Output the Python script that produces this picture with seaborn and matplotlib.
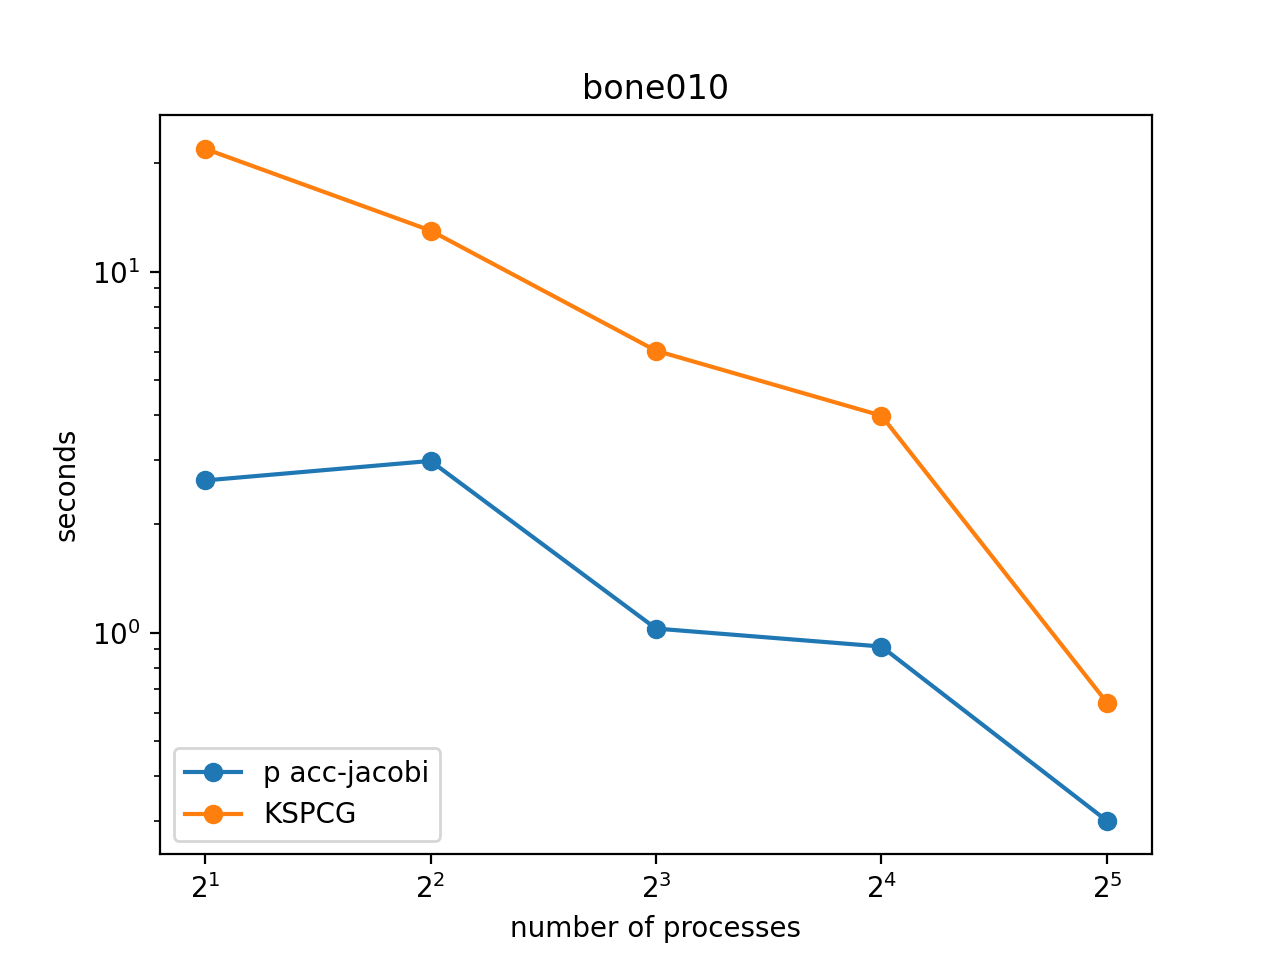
import matplotlib
matplotlib.use("Agg")
import matplotlib.pyplot as plt
import numpy as np
import pandas as pd
import seaborn as sns

processes = [2, 4, 8, 16, 32]
acc_jacobi = [2.64, 2.99, 1.026, 0.915, 0.301]
kspcg = [21.9, 13.0, 6.04, 3.99, 0.64]

series = {"p acc-jacobi": (acc_jacobi, "#1f77b4"), "KSPCG": (kspcg, "#ff7f0e")}

fig, ax = plt.subplots(figsize=(6.4, 4.8), dpi=200)
for name, (vals, color) in series.items():
    df = pd.DataFrame({"procs": processes, "seconds": vals})
    sns.lineplot(data=df, x="procs", y="seconds", ax=ax, color=color, marker="o",
                 markersize=6, markeredgecolor=color, markeredgewidth=1.0, label=name)

ax.set_xscale("log", base=2)
ax.set_yscale("log")
ax.set_xlabel("number of processes")
ax.set_ylabel("seconds")
ax.set_title("bone010")
ax.legend(loc="lower left")

fig.savefig("out.png", dpi=200)
